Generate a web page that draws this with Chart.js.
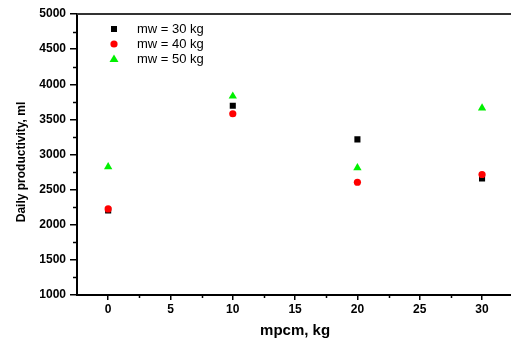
<!DOCTYPE html>
<html>
<head>
<meta charset="utf-8">
<script src="https://cdn.jsdelivr.net/npm/chart.js@4/dist/chart.umd.min.js"></script>
<style>
  html, body { margin: 0; padding: 0; background: #fff; overflow: hidden; }
  #wrap { width: 511px; height: 338px; overflow: hidden; position: relative; }
  canvas { display: block; }
</style>
</head>
<body>
<div id="wrap"><canvas id="c" width="518" height="338"></canvas></div>
<script>
// ---- data ----
const mpcm = [0, 10, 20, 30];
const mw30 = [2205, 3695, 3215, 2660];
const mw40 = [2225, 3580, 2605, 2715];
const mw50 = [2825, 3830, 2810, 3660];
const seriesLabels = ['mw = 30 kg', 'mw = 40 kg', 'mw = 50 kg'];
const xTicks = [0, 5, 10, 15, 20, 25, 30];
const yTicks = [1000, 1500, 2000, 2500, 3000, 3500, 4000, 4500, 5000];
const xTitle = 'mpcm, kg';
const yTitle = 'Daily productivity, ml';

const FONT = '"Liberation Sans", Arial, Helvetica, sans-serif';

function pts(ys) { return mpcm.map((x, i) => ({ x: x, y: ys[i] })); }

const extras = {
  id: 'extras',
  afterDraw(chart) {
    const ctx = chart.ctx;
    const a = chart.chartArea;
    const xs = chart.scales.x, ys = chart.scales.y;
    ctx.save();
    // top border
    ctx.strokeStyle = '#333';
    ctx.lineWidth = 2;
    ctx.beginPath();
    ctx.moveTo(a.left, a.top);
    ctx.lineTo(a.right, a.top);
    ctx.stroke();
    // minor ticks
    ctx.strokeStyle = '#000';
    ctx.lineWidth = 1.5;
    ctx.beginPath();
    for (let i = 0; i < yTicks.length - 1; i++) {
      const v = (yTicks[i] + yTicks[i + 1]) / 2;
      const py = Math.round(ys.getPixelForValue(v)) + 0.5;
      ctx.moveTo(a.left, py); ctx.lineTo(a.left - 4, py);
    }
    for (let i = 0; i < xTicks.length - 1; i++) {
      const v = (xTicks[i] + xTicks[i + 1]) / 2;
      const px = Math.round(xs.getPixelForValue(v)) + 0.5;
      ctx.moveTo(px, a.bottom); ctx.lineTo(px, a.bottom + 3);
    }
    ctx.stroke();
    // y title
    ctx.fillStyle = '#000';
    ctx.font = 'bold 12px ' + FONT;
    ctx.textAlign = 'center';
    ctx.textBaseline = 'middle';
    ctx.translate(22, 162);
    ctx.rotate(-Math.PI / 2);
    ctx.fillText(yTitle, 0, 0);
    ctx.restore();

    // legend
    ctx.save();
    const mx = a.left + 37, tx = a.left + 60;
    const rows = [a.top + 15, a.top + 30, a.top + 45];
    chart.data.datasets.forEach((ds, i) => {
      const y = rows[i];
      ctx.fillStyle = ds.backgroundColor;
      ctx.beginPath();
      if (ds.pointStyle === 'rect') {
        ctx.rect(mx - 3, y - 3, 6, 6);
      } else if (ds.pointStyle === 'circle') {
        ctx.arc(mx, y, 3.6, 0, Math.PI * 2);
      } else {
        ctx.moveTo(mx, y - 4.5);
        ctx.lineTo(mx + 4.5, y + 3);
        ctx.lineTo(mx - 4.5, y + 3);
        ctx.closePath();
      }
      ctx.fill();
      ctx.fillStyle = '#000';
      ctx.font = '13px ' + FONT;
      ctx.textAlign = 'left';
      ctx.textBaseline = 'middle';
      ctx.fillText(ds.label, tx, y);
    });
    ctx.restore();
  }
};

new Chart(document.getElementById('c'), {
  type: 'scatter',
  data: {
    datasets: [
      { label: seriesLabels[0], data: pts(mw30), pointStyle: 'rect', pointRadius: 4.3, pointHoverRadius: 4.3,
        backgroundColor: '#000000', borderColor: '#000000', borderWidth: 0, order: 1 },
      { label: seriesLabels[1], data: pts(mw40), pointStyle: 'circle', pointRadius: 3.6, pointHoverRadius: 3.6,
        backgroundColor: '#ff0000', borderColor: '#ff0000', borderWidth: 0, order: 0 },
      { label: seriesLabels[2], data: pts(mw50), pointStyle: 'triangle', pointRadius: 4.8, pointHoverRadius: 4.8,
        backgroundColor: '#00f000', borderColor: '#00f000', borderWidth: 0, order: 2 }
    ]
  },
  options: {
    responsive: false,
    animation: false,
    events: [],
    layout: { padding: { top: 14, left: 0, right: 4, bottom: 0 } },
    plugins: { legend: { display: false }, tooltip: { enabled: false } },
    scales: {
      x: {
        type: 'linear', min: -2.5, max: 32.5,
        afterBuildTicks: (s) => { s.ticks = xTicks.map(v => ({ value: v })); },
        afterFit: (s) => { s.height = 43; },
        ticks: { color: '#000', font: { family: FONT, size: 12, weight: 'bold' }, padding: 2, maxRotation: 0,
                 callback: (v) => String(v) },
        grid: { display: true, drawOnChartArea: false, drawTicks: true, tickLength: 5, color: '#000', lineWidth: 1.5 },
        border: { display: true, color: '#000', width: 2 },
        title: { display: true, text: xTitle, color: '#000', font: { family: FONT, size: 15, weight: 'bold', lineHeight: 1.0 }, padding: { top: 0, bottom: 0 } }
      },
      y: {
        type: 'linear', min: 1000, max: 5000,
        afterBuildTicks: (s) => { s.ticks = yTicks.map(v => ({ value: v })); },
        afterFit: (s) => { s.width = 77; },
        ticks: { color: '#000', font: { family: FONT, size: 12, weight: 'bold' }, padding: 4,
                 callback: (v) => String(v) },
        grid: { display: true, drawOnChartArea: false, drawTicks: true, tickLength: 7, color: '#000', lineWidth: 1.5 },
        border: { display: true, color: '#000', width: 2 }
      }
    }
  },
  plugins: [extras]
});
</script>
</body>
</html>
